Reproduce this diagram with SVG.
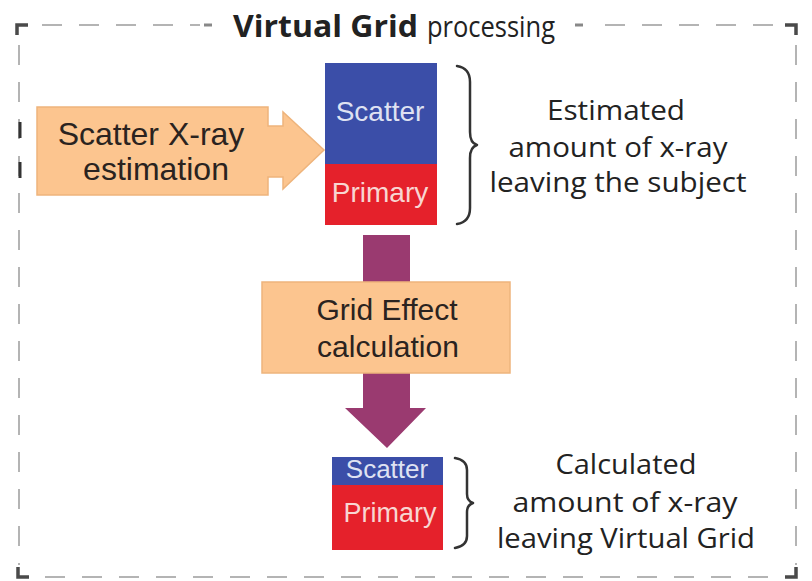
<svg xmlns="http://www.w3.org/2000/svg" width="812" height="581" viewBox="0 0 812 581">
<style>
.frame{fill:none;stroke:#b4b4b4;stroke-width:2;stroke-dasharray:20 17}
.corner{fill:none;stroke:#4a4a4a;stroke-width:3.5}
.orange{fill:#fcc58f;stroke:#eeb47c;stroke-width:1.5}
.hum{font-family:"Open Sans","Liberation Sans",sans-serif;fill:#222}
.ar{font-family:"Liberation Sans",Arial,sans-serif;fill:#2a2320}
.brace{fill:none;stroke:#333;stroke-width:2.5;stroke-linecap:round;stroke-linejoin:round}
.blue{fill:#3b4ea8}
.red{fill:#e5212b}
.sc{font-family:"Liberation Sans",Arial,sans-serif;fill:#dfe2f2}
.pr{font-family:"Liberation Sans",Arial,sans-serif;fill:#f8d6d2}
</style>
<rect width="812" height="581" fill="#ffffff"/>
<g id="frame">
  <line class="frame" x1="42" y1="25" x2="200" y2="25"/>
  <line x1="204" y1="25" x2="212" y2="25" stroke="#888" stroke-width="3"/>
  <line x1="575" y1="25" x2="583" y2="25" stroke="#888" stroke-width="3"/>
  <line class="frame" x1="605" y1="25" x2="782" y2="25"/>
  <line class="frame" x1="19" y1="45" x2="19" y2="565"/>
  <line class="frame" x1="796" y1="45" x2="796" y2="565"/>
  <line class="frame" x1="45" y1="577" x2="782" y2="577"/>
  <line x1="20" y1="122" x2="20" y2="138" stroke="#333" stroke-width="3"/>
  <line x1="20" y1="162" x2="20" y2="178" stroke="#333" stroke-width="3"/>
  <path class="corner" d="M17,35 V25 H28"/>
  <path class="corner" d="M785,25 H796 V35"/>
  <path class="corner" d="M18,567 V577 H29"/>
  <path class="corner" d="M785,577 H796 V567"/>
  <text x="233" y="37" font-size="30" class="hum"><tspan font-weight="bold" textLength="185" lengthAdjust="spacingAndGlyphs">Virtual Grid</tspan><tspan x="427" textLength="128" lengthAdjust="spacingAndGlyphs">processing</tspan></text>
</g>
<g id="connectors">
  <polygon fill="#9a3a70" points="363,235 410,235 410,408 426,408 387,448 345,408 363,408"/>
</g>
<g id="scatter-estimation">
  <polygon class="orange" points="37,107 268,107 268,126 283,126 283,112 324,150 283,189 283,177 268,177 268,195 37,195"/>
  <text class="ar" font-size="32" text-anchor="middle" x="151" y="145">Scatter X-ray</text>
  <text class="ar" font-size="32" text-anchor="middle" x="156" y="180">estimation</text>
</g>
<g id="stack-estimated">
  <rect class="blue" x="325" y="63" width="112" height="101"/>
  <rect class="red" x="325" y="164" width="112" height="61"/>
  <text class="sc" font-size="28" text-anchor="middle" x="380" y="121">Scatter</text>
  <text class="pr" font-size="28" text-anchor="middle" x="380" y="202">Primary</text>
</g>
<g id="brace-estimated">
  <path class="brace" d="M457,66 Q470,68 470,82 V132 Q470,143 477,145 Q470,147 470,158 V208 Q470,222 457,224"/>
</g>
<g id="label-estimated">
  <text class="hum" font-size="27" text-anchor="middle" x="616" y="120" textLength="138" lengthAdjust="spacingAndGlyphs">Estimated</text>
  <text class="hum" font-size="27" text-anchor="middle" x="618" y="157" textLength="219" lengthAdjust="spacingAndGlyphs">amount of  x-ray</text>
  <text class="hum" font-size="27" text-anchor="middle" x="618" y="192" textLength="257" lengthAdjust="spacingAndGlyphs">leaving the subject</text>
</g>
<g id="grid-effect">
  <rect class="orange" x="262" y="282" width="248" height="91"/>
  <text class="ar" font-size="30" text-anchor="middle" x="387" y="320">Grid Effect</text>
  <text class="ar" font-size="30" text-anchor="middle" x="388" y="357">calculation</text>
</g>
<g id="stack-calculated">
  <rect class="blue" x="332" y="457" width="111" height="28"/>
  <rect class="red" x="332" y="485" width="111" height="65"/>
  <text class="sc" font-size="26" text-anchor="middle" x="387" y="478">Scatter</text>
  <text class="pr" font-size="27" text-anchor="middle" x="390" y="522">Primary</text>
</g>
<g id="brace-calculated">
  <path class="brace" d="M455,458 Q467,460 467,470 V494 Q467,501 473,503 Q467,505 467,512 V536 Q467,546 455,548"/>
</g>
<g id="label-calculated">
  <text class="hum" font-size="27" text-anchor="middle" x="626" y="474" textLength="141" lengthAdjust="spacingAndGlyphs">Calculated</text>
  <text class="hum" font-size="27" text-anchor="middle" x="625" y="512" textLength="225" lengthAdjust="spacingAndGlyphs">amount of  x-ray</text>
  <text class="hum" font-size="27" text-anchor="middle" x="626" y="548" textLength="258" lengthAdjust="spacingAndGlyphs">leaving Virtual Grid</text>
</g>
</svg>
